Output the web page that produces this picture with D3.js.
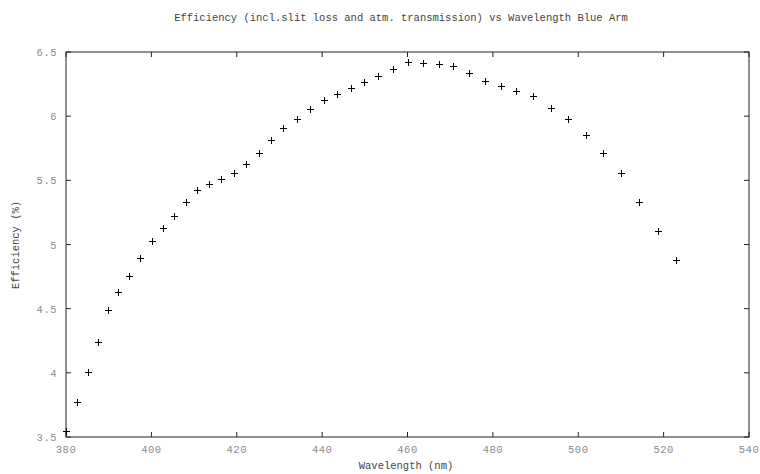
<!DOCTYPE html>
<html>
<head>
<meta charset="utf-8">
<script src="https://cdn.jsdelivr.net/npm/d3@7"></script>
<style>
  body { margin: 0; background: #fff; }
  text { font-family: "Liberation Mono", "DejaVu Sans Mono", monospace; }
</style>
</head>
<body>
<div id="chart"></div>
<script>
// Efficiency vs wavelength, blue arm
const wavelength = [380.0, 382.5, 385.1, 387.4, 389.8, 392.2, 394.8, 397.3, 400.1, 402.7,
  405.4, 408.0, 410.7, 413.5, 416.4, 419.3, 422.2, 425.1, 428.0, 430.9,
  434.0, 437.2, 440.4, 443.5, 446.7, 449.9, 453.2, 456.6, 460.1, 463.7,
  467.3, 470.7, 474.5, 478.1, 481.9, 485.5, 489.5, 493.6, 497.5, 501.7,
  505.8, 510.0, 514.3, 518.6, 523.0];
const efficiency = [3.55, 3.775, 4.004, 4.238, 4.49, 4.628, 4.757, 4.893, 5.03, 5.126,
  5.224, 5.329, 5.427, 5.469, 5.508, 5.555, 5.627, 5.715, 5.814, 5.905,
  5.978, 6.058, 6.128, 6.173, 6.22, 6.269, 6.315, 6.365, 6.42, 6.414,
  6.407, 6.391, 6.334, 6.276, 6.237, 6.198, 6.155, 6.066, 5.978, 5.856,
  5.711, 5.557, 5.329, 5.103, 4.879];
const xTicks = [380, 400, 420, 440, 460, 480, 500, 520, 540];
const yTicks = [3.5, 4, 4.5, 5, 5.5, 6, 6.5];

const width = 760, height = 474;
const margin = [52, 37, 66, 11]; // top, bottom, left, right

const svg = d3.select('#chart').append('svg')
  .attr('width', width)
  .attr('height', height);

const x = d3.scaleLinear([380, 540], [margin[2], width - margin[3]]);
const y = d3.scaleLinear([3.5, 6.5], [height - margin[1], margin[0]]);

const tickLen = 5;
const axisCol = '#222';
const labelCol = '#8a8a8a';

// frame
svg.append('rect')
  .attr('x', x(380)).attr('y', y(6.5))
  .attr('width', x(540) - x(380)).attr('height', y(3.5) - y(6.5))
  .attr('fill', 'none').attr('stroke', axisCol).attr('stroke-width', 1);

// ticks, inward on all four sides
const g = svg.append('g').attr('stroke', axisCol).attr('stroke-width', 1);
xTicks.forEach(t => {
  g.append('line').attr('x1', x(t)).attr('x2', x(t)).attr('y1', y(3.5)).attr('y2', y(3.5) - tickLen);
  g.append('line').attr('x1', x(t)).attr('x2', x(t)).attr('y1', y(6.5)).attr('y2', y(6.5) + tickLen);
});
yTicks.forEach(t => {
  g.append('line').attr('x1', x(380)).attr('x2', x(380) + tickLen).attr('y1', y(t)).attr('y2', y(t));
  g.append('line').attr('x1', x(540)).attr('x2', x(540) - tickLen).attr('y1', y(t)).attr('y2', y(t));
});

// tick labels
svg.selectAll('.xl').data(xTicks).join('text')
  .attr('x', d => x(d)).attr('y', y(3.5) + 16)
  .attr('text-anchor', 'middle').attr('font-size', 10.5).attr('fill', labelCol)
  .attr('letter-spacing', 0.5)
  .text(d => d);
svg.selectAll('.yl').data(yTicks).join('text')
  .attr('x', x(380) - 9).attr('y', d => y(d) + 4)
  .attr('text-anchor', 'end').attr('font-size', 10.5).attr('fill', labelCol)
  .attr('letter-spacing', 0.5)
  .text(d => d);

// titles
svg.append('text')
  .attr('x', 401).attr('y', 21)
  .attr('text-anchor', 'middle').attr('font-size', 10.5).attr('fill', '#444')
  .text('Efficiency (incl.slit loss and atm. transmission) vs Wavelength Blue Arm');
svg.append('text')
  .attr('x', 406).attr('y', 469)
  .attr('text-anchor', 'middle').attr('font-size', 10.5).attr('fill', '#444')
  .text('Wavelength (nm)');
svg.append('text')
  .attr('transform', `translate(19, 245) rotate(-90)`)
  .attr('text-anchor', 'middle').attr('font-size', 10.5).attr('fill', '#444')
  .text('Efficiency (%)');

// data markers
const pts = wavelength.map((w, i) => ({ w, e: efficiency[i] }));
svg.append('g')
  .selectAll('path')
  .data(pts)
  .join('path')
  .attr('d', d => {
    const cx = Math.round(x(d.w)) + 0.5, cy = Math.round(y(d.e)) + 0.5, s = 3.5;
    return `M${cx - s},${cy}H${cx + s}M${cx},${cy - s}V${cy + s}`;
  })
  .attr('stroke', '#000').attr('stroke-width', 1).attr('fill', 'none');
</script>
</body>
</html>
